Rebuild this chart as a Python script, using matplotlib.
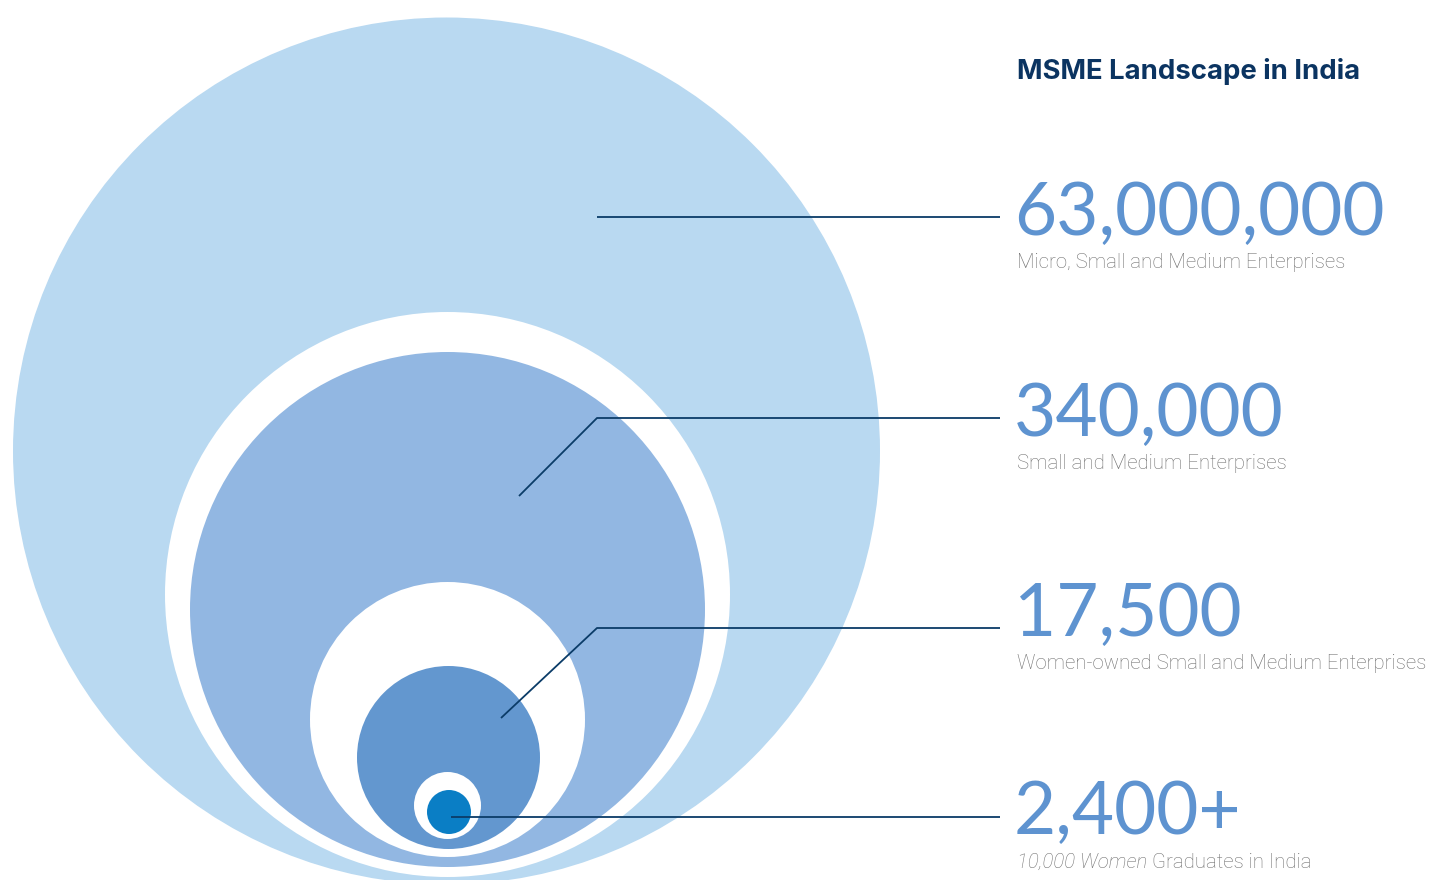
import matplotlib
matplotlib.use("Agg")
import matplotlib.pyplot as plt
from matplotlib.patches import Circle

# circles from outer to inner (pixel space, y downward)
circle_x = [446.5, 447.5, 447.5, 447.5, 448.5, 447.5, 449]
circle_y = [451, 594.5, 609.5, 719.5, 757.5, 805.5, 812]
circle_r = [433.5, 282.5, 257.5, 137.5, 91.5, 33.5, 22]
circle_col = ["#b9d9f1", "white", "#92b7e2", "white", "#6397cf", "white", "#0a7ec5"]

# numbers and captions
values = ["63,000,000", "340,000", "17,500", "2,400+"]
captions = ["Micro, Small and Medium Enterprises",
            "Small and Medium Enterprises",
            "Women-owned Small and Medium Enterprises",
            "Graduates in India"]
value_y = [235, 436, 636, 834]

# leader lines (x list, y list)
lines_x = [[597, 1000], [519, 597, 1000], [501, 597, 1000], [451, 1000]]
lines_y = [[217, 217], [496, 418, 418], [718, 628, 628], [817, 817]]

title = "MSME Landscape in India"

fig = plt.figure(figsize=(14.37, 8.8), dpi=100)
ax = fig.add_axes([0, 0, 1, 1])
ax.set_xlim(0, 1437)
ax.set_ylim(880, 0)
ax.set_aspect("equal")
ax.axis("off")

for x, y, r, c in zip(circle_x, circle_y, circle_r, circle_col):
    ax.add_patch(Circle((x, y), r, color=c, lw=0))

for xs, ys in zip(lines_x, lines_y):
    ax.plot(xs, ys, color="#0b3c68", lw=1.3, solid_capstyle="butt")

ax.text(1017, 79, title, fontsize=19.8, fontweight="bold", color="#0b3461",
        family="Inter", va="baseline")

num_font = dict(family="Lato", fontweight="normal", color="#5e93d0", va="baseline")
cap_font = dict(family="Roboto", fontweight="light", color="#707070", va="baseline")

for v, cap, y in zip(values, captions, value_y):
    ax.text(1014, y, v, fontsize=52.5, **num_font)
    if cap == captions[-1]:
        t = ax.text(1017, y + 34, "10,000 Women", fontsize=14.7, style="italic", **cap_font)
        fig.canvas.draw()
        bb = t.get_window_extent().transformed(ax.transData.inverted())
        ax.text(bb.x1 + 5, y + 34, cap, fontsize=14.7, **cap_font)
    else:
        ax.text(1017, y + 33, cap, fontsize=14.7, **cap_font)

fig.savefig("out.png", dpi=100)
